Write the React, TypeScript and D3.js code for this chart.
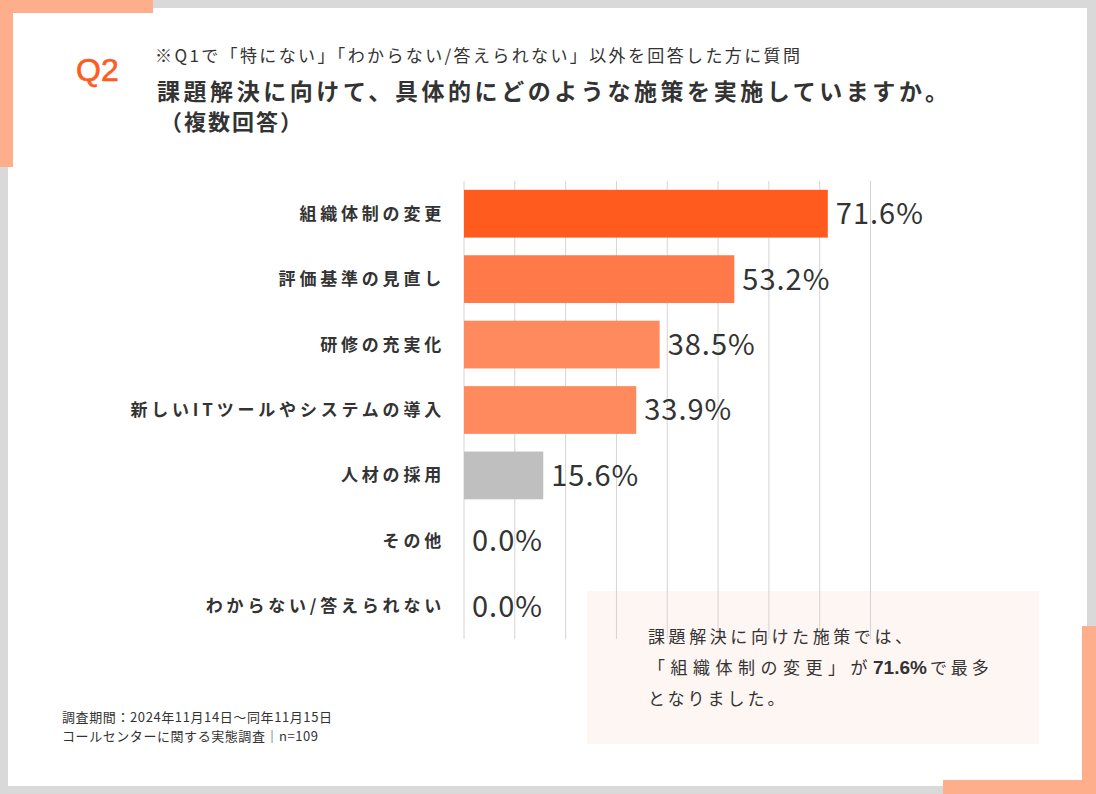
import React from "react";
import * as d3 from "d3";

const categories = [
  "組織体制の変更",
  "評価基準の見直し",
  "研修の充実化",
  "新しいITツールやシステムの導入",
  "人材の採用",
  "その他",
  "わからない/答えられない",
];
const values = [71.6, 53.2, 38.5, 33.9, 15.6, 0.0, 0.0];
const barColors = ["#FF5B1F", "#FF7A48", "#FF8A5E", "#FF8A5E", "#BFBFBF", "#BFBFBF", "#BFBFBF"];
const gridTicks = [0, 10, 20, 30, 40, 50, 60, 70, 80];

const W = 1096;
const H = 794;
const JP = "'Noto Sans CJK JP', 'Noto Sans', sans-serif";

export default function App() {
  const x = d3.scaleLinear().domain([0, 80]).range([464, 870.5]);
  const y = d3.scaleBand<string>().domain(categories).range([181, 639]).paddingInner(0.27).paddingOuter(0.135);
  const textColor = "#333333";
  return (
    <svg width={W} height={H} style={{ position: "absolute", left: 0, top: 0 }}>
      <rect x={0} y={0} width={W} height={H} fill="#d9d9d9" />
      <rect x={8} y={8} width={1079} height={778} fill="#ffffff" />
      {/* accents */}
      <rect x={0} y={0} width={153} height={13} fill="#FFAE8C" />
      <rect x={0} y={0} width={13} height={167} fill="#FFAE8C" />
      <rect x={1082} y={626} width={14} height={168} fill="#FFAE8C" />
      <rect x={943} y={780} width={153} height={14} fill="#FFAE8C" />

      {/* header */}
      <text x={76} y={81} fontFamily="'Liberation Sans', Arial, sans-serif" fontSize={32} fontWeight={400} fill="#FF5B1F" stroke="#FF5B1F" strokeWidth={0.6}>Q2</text>
      <text x={155} y={62} fontFamily={JP} fontSize={17} fill={textColor} textLength={645} lengthAdjust="spacing">※Q1で「特にない」「わからない/答えられない」以外を回答した方に質問</text>
      <text x={157} y={100} fontFamily={JP} fontSize={23} fontWeight={700} fill={textColor} textLength={791} lengthAdjust="spacing">課題解決に向けて、具体的にどのような施策を実施していますか。</text>
      <text x={160} y={130} fontFamily={JP} fontSize={22} fontWeight={700} fill={textColor} textLength={142} lengthAdjust="spacing">（複数回答）</text>

      {/* callout box (under grid lines) */}
      <rect x={587} y={591} width={452} height={153} fill="#FEF6F3" />

      {/* grid */}
      {gridTicks.map((t) => (
        <line key={t} x1={x(t)} x2={x(t)} y1={181} y2={639} stroke="#d4d4d4" strokeWidth={1} />
      ))}

      {/* bars */}
      {categories.map((c, i) => (
        <g key={c}>
          {values[i] > 0 && (
            <rect x={x(0)} y={y(c)!} width={x(values[i]) - x(0)} height={y.bandwidth()} fill={barColors[i]} />
          )}
          <text x={445} y={y(c)! + y.bandwidth() / 2} dy="0.35em" textAnchor="end" fontFamily={JP} fontSize={17} fontWeight={700} fill={textColor} letterSpacing={3.8}>{c}</text>
          <text x={x(values[i]) + 8} y={y(c)! + y.bandwidth() / 2} dy="0.36em" fontFamily={JP} fontSize={29} fill={textColor} letterSpacing={1}>{values[i].toFixed(1) + "%"}</text>
        </g>
      ))}

      {/* callout text */}
      <text x={648} y={643} fontFamily={JP} fontSize={17} fill={textColor} textLength={264} lengthAdjust="spacing">課題解決に向けた施策では、</text>
      <text x={648} y={674} fontFamily={JP} fontSize={17} fill={textColor}>
        <tspan letterSpacing={5.5}>「組織体制の変更」が</tspan>
        <tspan fontWeight={700} fontFamily="'Liberation Sans', Arial, sans-serif" fontSize={19} letterSpacing={0}>71.6%</tspan>
        <tspan letterSpacing={4} dx={3}>で最多</tspan>
      </text>
      <text x={648} y={705} fontFamily={JP} fontSize={17} fill={textColor} letterSpacing={3}>となりました。</text>

      {/* footnote */}
      <text x={62} y={722} fontFamily={JP} fontSize={13} fill={textColor} textLength={270} lengthAdjust="spacing">調査期間：2024年11月14日～同年11月15日</text>
      <text x={62} y={741} fontFamily={JP} fontSize={13} fill={textColor} textLength={256} lengthAdjust="spacing">コールセンターに関する実態調査｜n=109</text>
    </svg>
  );
}
